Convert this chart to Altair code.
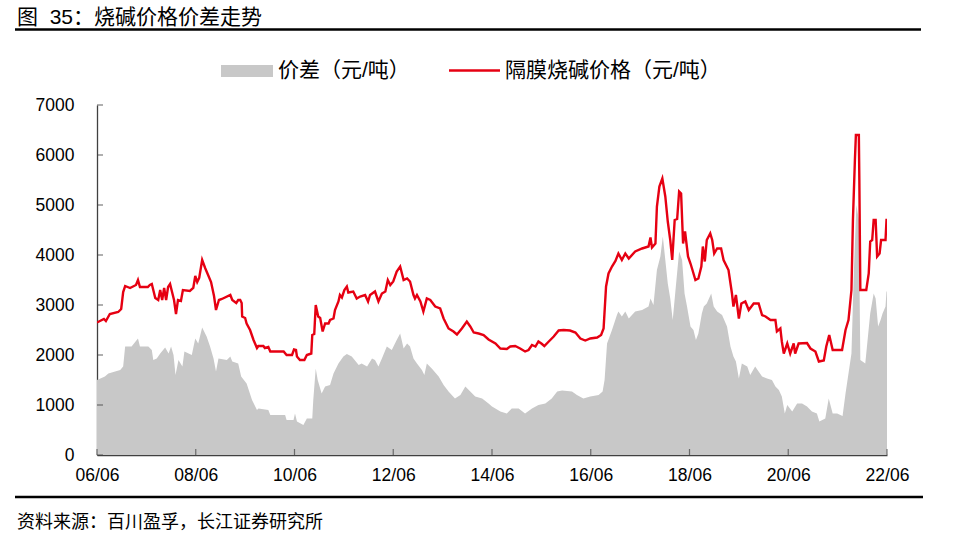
import altair as alt
import pandas as pd

# ---- data ----
price_year = [2006.42, 2006.56, 2006.60, 2006.68, 2006.85, 2006.91, 2006.95, 2006.99, 2007.09, 2007.21,
              2007.25, 2007.29, 2007.45, 2007.49, 2007.53, 2007.60, 2007.66, 2007.70, 2007.74, 2007.78,
              2007.82, 2007.86, 2007.90, 2007.94, 2007.98, 2008.02, 2008.06, 2008.12, 2008.16, 2008.30,
              2008.37, 2008.41, 2008.45, 2008.49, 2008.55, 2008.61, 2008.67, 2008.73, 2008.79, 2008.83,
              2008.89, 2008.95, 2009.12, 2009.16, 2009.24, 2009.28, 2009.32, 2009.35, 2009.36, 2009.42,
              2009.45, 2009.52, 2009.59, 2009.66, 2009.69, 2009.79, 2009.82, 2009.89, 2009.93, 2010.20,
              2010.26, 2010.37, 2010.41, 2010.45, 2010.47, 2010.53, 2010.62, 2010.67, 2010.76, 2010.78,
              2010.82, 2010.85, 2010.90, 2010.94, 2010.99, 2011.04, 2011.11, 2011.14, 2011.21, 2011.24,
              2011.31, 2011.34, 2011.38, 2011.43, 2011.48, 2011.51, 2011.61, 2011.68, 2011.75, 2011.85,
              2011.91, 2011.95, 2012.05, 2012.12, 2012.19, 2012.26, 2012.31, 2012.36, 2012.42, 2012.49,
              2012.56, 2012.63, 2012.70, 2012.76, 2012.83, 2012.86, 2012.90, 2012.97, 2013.03, 2013.10,
              2013.17, 2013.27, 2013.37, 2013.44, 2013.54, 2013.64, 2013.71, 2013.81, 2013.91, 2013.98,
              2014.05, 2014.15, 2014.25, 2014.35, 2014.49, 2014.59, 2014.72, 2014.79, 2014.89, 2014.99,
              2015.09, 2015.16, 2015.23, 2015.30, 2015.36, 2015.42, 2015.48, 2015.57, 2015.67, 2015.77,
              2015.87, 2016.00, 2016.11, 2016.21, 2016.31, 2016.41, 2016.55, 2016.63, 2016.68, 2016.73,
              2016.78, 2016.85, 2016.92, 2016.98, 2017.05, 2017.12, 2017.19, 2017.32, 2017.46, 2017.59,
              2017.63, 2017.66, 2017.73, 2017.76, 2017.81, 2017.87, 2017.93, 2017.98, 2018.03, 2018.07,
              2018.12, 2018.17, 2018.21, 2018.25, 2018.29, 2018.33, 2018.39, 2018.44, 2018.48, 2018.54,
              2018.60, 2018.66, 2018.69, 2018.73, 2018.77, 2018.84, 2018.88, 2018.92, 2018.98, 2019.06,
              2019.11, 2019.21, 2019.28, 2019.31, 2019.36, 2019.42, 2019.47, 2019.55, 2019.62, 2019.72,
              2019.82, 2019.89, 2019.96, 2020.06, 2020.16, 2020.19, 2020.26, 2020.29, 2020.33, 2020.40,
              2020.46, 2020.53, 2020.56, 2020.63, 2020.80, 2020.87, 2020.97, 2021.04, 2021.14, 2021.19,
              2021.25, 2021.32, 2021.51, 2021.58, 2021.64, 2021.70, 2021.73, 2021.77, 2021.79, 2021.85,
              2021.86, 2021.88, 2022.00, 2022.05, 2022.08, 2022.12, 2022.15, 2022.19, 2022.22, 2022.27,
              2022.30, 2022.39, 2022.41, 2022.42]
price_val = [2650, 2720, 2680, 2820, 2860, 2920, 3260, 3380, 3340, 3400,
             3500, 3360, 3360, 3400, 3420, 3140, 3100, 3300, 3100, 3340,
             3100, 3360, 3420, 3260, 3100, 2820, 3100, 3080, 3300, 3280,
             3340, 3580, 3460, 3540, 3900, 3740, 3600, 3460, 3180, 2900,
             3100, 3120, 3200, 3100, 3040, 3100, 3100, 3040, 2770, 2740,
             2630, 2500, 2300, 2140, 2180, 2180, 2140, 2160, 2070, 2070,
             2000, 2000, 2110, 2100, 1970, 1900, 1900, 2000, 2030, 2400,
             2420, 3000, 2770, 2740, 2470, 2630, 2630, 2700, 2730, 2900,
             3070, 3200, 3150, 3300, 3370, 3250, 3270, 3130, 3170, 3200,
             3070, 3200, 3270, 3070, 3230, 3270, 3500, 3400, 3470, 3670,
             3770, 3500, 3530, 3470, 3200, 3130, 3200, 3070, 2870, 3130,
             3100, 2970, 2930, 2730, 2530, 2470, 2410, 2530, 2670, 2570,
             2450, 2430, 2400, 2310, 2230, 2130, 2120, 2170, 2180, 2130,
             2070, 2100, 2200, 2170, 2270, 2230, 2180, 2270, 2370, 2490,
             2500, 2490, 2450, 2330, 2290, 2330, 2350, 2400, 2530, 3370,
             3630, 3770, 3880, 4030, 3900, 4030, 3930, 4070, 4130, 4170,
             4350, 4150, 4230, 4970, 5370, 5530, 5170, 4670, 4300, 3900,
             4700, 4720, 5270, 5230, 4230, 4470, 3970, 3830, 3700, 3500,
             3530, 3770, 4170, 3870, 4300, 4430, 4300, 4030, 4130, 4130,
             3900, 3700, 3230, 2970, 3200, 2730, 3030, 3070, 2900, 3030,
             3030, 2800, 2770, 2700, 2700, 2470, 2530, 2270, 2030, 2230,
             2030, 2230, 2030, 2230, 2240, 2130, 2070, 1870, 1890, 2170,
             2400, 2100, 2100, 2500, 2700, 3300, 4700, 5900, 6400, 6400,
             5500, 3300, 3300, 3630, 4270, 4300, 4700, 4700, 3970, 4030,
             4300, 4300, 4700, 4700]

spread_year = [2006.42, 2006.58, 2006.65, 2006.89, 2006.95, 2006.99, 2007.12, 2007.25, 2007.29, 2007.46,
               2007.53, 2007.56, 2007.63, 2007.70, 2007.80, 2007.87, 2007.92, 2007.97, 2008.01, 2008.07,
               2008.15, 2008.19, 2008.34, 2008.41, 2008.47, 2008.55, 2008.64, 2008.71, 2008.78, 2008.83,
               2008.88, 2009.05, 2009.12, 2009.16, 2009.28, 2009.34, 2009.45, 2009.56, 2009.66, 2009.69,
               2009.89, 2009.93, 2010.23, 2010.26, 2010.40, 2010.43, 2010.47, 2010.60, 2010.67, 2010.78,
               2010.80, 2010.85, 2010.89, 2010.97, 2011.04, 2011.14, 2011.21, 2011.31, 2011.41, 2011.48,
               2011.58, 2011.72, 2011.78, 2011.89, 2011.99, 2012.05, 2012.12, 2012.19, 2012.29, 2012.39,
               2012.49, 2012.56, 2012.63, 2012.70, 2012.76, 2012.83, 2012.90, 2013.00, 2013.05, 2013.10,
               2013.20, 2013.34, 2013.44, 2013.54, 2013.67, 2013.78, 2013.88, 2013.98, 2014.08, 2014.22,
               2014.35, 2014.42, 2014.59, 2014.72, 2014.82, 2014.96, 2015.09, 2015.23, 2015.36, 2015.50,
               2015.63, 2015.74, 2015.84, 2016.04, 2016.14, 2016.27, 2016.41, 2016.58, 2016.66, 2016.70,
               2016.75, 2016.85, 2016.95, 2016.98, 2017.05, 2017.12, 2017.19, 2017.32, 2017.46, 2017.59,
               2017.63, 2017.69, 2017.76, 2017.83, 2017.88, 2017.93, 2017.98, 2018.03, 2018.08, 2018.13,
               2018.21, 2018.27, 2018.32, 2018.37, 2018.44, 2018.50, 2018.55, 2018.60, 2018.67, 2018.71,
               2018.77, 2018.86, 2018.91, 2018.98, 2019.08, 2019.18, 2019.25, 2019.31, 2019.36, 2019.42,
               2019.48, 2019.59, 2019.65, 2019.75, 2019.89, 2019.99, 2020.09, 2020.16, 2020.23, 2020.29,
               2020.35, 2020.40, 2020.50, 2020.60, 2020.70, 2020.80, 2020.90, 2021.00, 2021.05, 2021.17,
               2021.24, 2021.32, 2021.41, 2021.52, 2021.58, 2021.64, 2021.70, 2021.75, 2021.80, 2021.85,
               2021.88, 2021.98, 2022.04, 2022.08, 2022.15, 2022.19, 2022.24, 2022.29, 2022.33, 2022.39,
               2022.41, 2022.42]
spread_val = [1500, 1570, 1630, 1700, 1770, 2170, 2170, 2330, 2170, 2170,
              2100, 1900, 1930, 2030, 2150, 2030, 2170, 2000, 1600, 1900,
              1770, 2070, 2000, 2330, 2230, 2550, 2370, 2170, 1930, 1670,
              1930, 1900, 1970, 1870, 1830, 1570, 1430, 1100, 900, 930,
              900, 800, 800, 700, 700, 830, 670, 600, 730, 730,
              1100, 1730, 1500, 1230, 1370, 1400, 1630, 1830, 1970, 2020,
              1970, 1800, 1830, 1770, 1930, 1900, 1770, 1930, 2170, 2100,
              2300, 2430, 2130, 2230, 2170, 1930, 1830, 1700, 1600, 1830,
              1730, 1570, 1400, 1270, 1130, 1200, 1370, 1270, 1170, 1130,
              1030, 970, 870, 830, 930, 930, 830, 930, 1000, 1030,
              1130, 1270, 1290, 1270, 1200, 1130, 1170, 1200, 1270, 1500,
              2230, 2500, 2800, 2870, 2770, 2870, 2730, 2870, 2900, 2970,
              3130, 3000, 3700, 3970, 4370, 3900, 3430, 3130, 2700, 3230,
              4070, 3900, 3230, 2970, 2570, 2500, 2300, 2430, 2830, 2970,
              3030, 3230, 2970, 2870, 2800, 2570, 2170, 1970, 1870, 1530,
              1830, 1770, 1600, 1770, 1570, 1530, 1500, 1370, 1300, 1170,
              830, 1000, 870, 1030, 1030, 970, 870, 830, 670, 730,
              1130, 830, 830, 780, 1230, 1630, 2030, 3700, 5000, 4700,
              1900, 1830, 2430, 2830, 3230, 3130, 2570, 2700, 2830, 2970,
              3270, 3270]

y_ticks = [0, 1000, 2000, 3000, 4000, 5000, 6000, 7000]
x_ticks = [2006.42, 2008.42, 2010.42, 2012.42, 2014.42, 2016.42, 2018.42, 2020.42, 2022.42]

title_text = "图\u00a0\u00a035：烧碱价格价差走势"
legend_spread = "价差（元/吨）"
legend_price = "隔膜烧碱价格（元/吨）"
source_text = "资料来源：百川盈孚，长江证券研究所"

FONT = "Liberation Sans, Arial, Noto Sans CJK SC"
RED = "#e60012"
GRAY = "#c8c8c8"
AXIS = "#404040"

price_df = pd.DataFrame({"year": price_year, "v": price_val})
spread_df = pd.DataFrame({"year": spread_year, "v": spread_val})
xt_df = pd.DataFrame({"year": x_ticks})
yt_df = pd.DataFrame({"v": y_ticks})

xscale = alt.Scale(domain=[2006.42, 2022.42], nice=False, zero=False)
yscale = alt.Scale(domain=[0, 7000], nice=False)

x_axis = alt.Axis(values=x_ticks, labelExpr="format(floor(datum.value) % 100, '02d') + '/06'",
                  grid=False, ticks=False, domainColor=AXIS, domainWidth=1.3,
                  labelFontSize=17.5, labelPadding=11, labelColor="black", labelFont=FONT,
                  labelFlush=False, title=None)
y_axis = alt.Axis(values=y_ticks, format="d", grid=False, ticks=False, domainColor=AXIS, domainWidth=1.3,
                  labelFontSize=17.5, labelPadding=23, labelColor="black", labelFont=FONT, title=None)

area = alt.Chart(spread_df).mark_area(color=GRAY, clip=True).encode(
    x=alt.X("year:Q", scale=xscale, axis=x_axis),
    y=alt.Y("v:Q", scale=yscale, axis=y_axis),
)
line = alt.Chart(price_df).mark_line(color=RED, strokeWidth=2.4, clip=True).encode(
    x=alt.X("year:Q", scale=xscale),
    y=alt.Y("v:Q", scale=yscale),
)
xticks = alt.Chart(xt_df).mark_tick(orient="vertical", color=AXIS, thickness=1.2, size=6).encode(
    x=alt.X("year:Q", scale=xscale), y=alt.value(347)
)
yticks = alt.Chart(yt_df).mark_tick(orient="horizontal", color=AXIS, thickness=1.2, size=6).encode(
    y=alt.Y("v:Q", scale=yscale), x=alt.value(3)
)

def text_layer(txt, x, y, size, font=FONT, color="black"):
    return alt.Chart(pd.DataFrame({"t": [txt]})).mark_text(
        align="left", baseline="middle", fontSize=size, font=font, color=color
    ).encode(text="t:N", x=alt.value(x), y=alt.value(y))

def hrule(x1, x2, y, color, width):
    return alt.Chart(pd.DataFrame({"k": [0]})).mark_rule(color=color, strokeWidth=width).encode(
        x=alt.value(x1), x2=alt.value(x2), y=alt.value(y)
    )

title = text_layer(title_text, -80, -87.5, 21)
top_line = hrule(-82, 824, -75.5, "black", 2.5)
bottom_line = hrule(-82, 826, 392, "black", 2.5)
source = text_layer(source_text, -80, 418, 18)

leg_rect = alt.Chart(pd.DataFrame({"k": [0]})).mark_rect(color=GRAY).encode(
    x=alt.value(124), x2=alt.value(176), y=alt.value(-40), y2=alt.value(-28)
)
leg_t1 = text_layer(legend_spread, 181, -34, 21)
leg_line = hrule(352, 403, -34.5, RED, 2.5)
leg_t2 = text_layer(legend_price, 408, -34, 21)

chart = alt.layer(
    area, line, xticks, yticks, title, top_line, bottom_line, source,
    leg_rect, leg_t1, leg_line, leg_t2
).properties(
    width=790, height=350,
    autosize=alt.AutoSizeParams(type="none"),
    padding={"left": 97, "top": 105, "right": 79, "bottom": 91},
    background="white",
).configure_view(strokeWidth=0)

chart.save("out.html", embed_options={"renderer": "svg", "actions": False})
